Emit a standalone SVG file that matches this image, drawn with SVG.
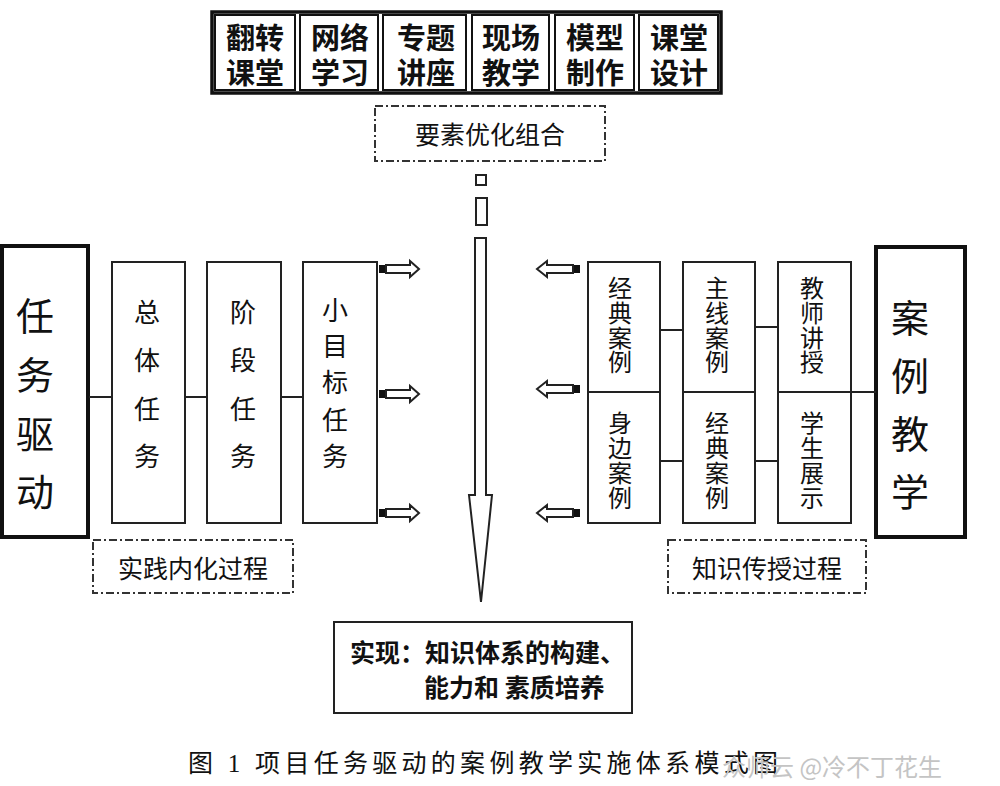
<svg xmlns="http://www.w3.org/2000/svg" width="1000" height="786" viewBox="0 0 1000 786">
<style>
.bg{fill:#fff}
.cell{fill:#fff;stroke:#111;stroke-width:2}
.frame{fill:none;stroke:#111;stroke-width:3.5}
.big{fill:#fff;stroke:#111;stroke-width:4}
.box{fill:#fff;stroke:#222;stroke-width:2}
.dd{fill:#fff;stroke:#333;stroke-width:2;stroke-dasharray:8 3 2 3}
.ln{stroke:#222;stroke-width:2;fill:none}
.arr{fill:#fff;stroke:#222;stroke-width:2;stroke-linejoin:miter}
.blk{fill:#111}
text{font-family:"Noto Sans CJK SC","Noto Sans",sans-serif;fill:#111;text-anchor:middle;dominant-baseline:central}
.tb{font-size:29px;font-weight:bold}
.t24{font-size:25px}
.vbig{font-size:38px}
.v26{font-size:26px}
.v24{font-size:24px}
.res{font-size:25px;font-weight:bold;text-anchor:start}
.cap{font-family:"Liberation Serif","Noto Sans CJK SC",serif;font-size:25px;text-anchor:start}
.wm{font-size:24px;fill:#c4c4c4;text-anchor:start}
</style>
<rect class="bg" x="0" y="0" width="1000" height="786"/>

<g id="top-methods">
  <rect class="frame" x="212" y="12" width="509" height="81"/>
  <g id="m1"><rect class="cell" x="215" y="15" width="80" height="75"/><text class="tb" x="255" y="36">翻转</text><text class="tb" x="255" y="71">课堂</text></g>
  <g id="m2"><rect class="cell" x="300" y="15" width="78" height="75"/><text class="tb" x="340" y="36">网络</text><text class="tb" x="340" y="71">学习</text></g>
  <g id="m3"><rect class="cell" x="383" y="15" width="83" height="75"/><text class="tb" x="426" y="36">专题</text><text class="tb" x="426" y="71">讲座</text></g>
  <g id="m4"><rect class="cell" x="472" y="15" width="77" height="75"/><text class="tb" x="511" y="36">现场</text><text class="tb" x="511" y="71">教学</text></g>
  <g id="m5"><rect class="cell" x="555" y="15" width="79" height="75"/><text class="tb" x="595" y="36">模型</text><text class="tb" x="595" y="71">制作</text></g>
  <g id="m6"><rect class="cell" x="639" y="15" width="79" height="75"/><text class="tb" x="679" y="36">课堂</text><text class="tb" x="679" y="71">设计</text></g>
</g>

<g id="optimize">
  <rect class="dd" x="375" y="106" width="230" height="55"/>
  <text class="t24" x="490" y="133">要素优化组合</text>
</g>

<g id="task-drive">
  <rect class="big" x="2" y="246" width="86" height="291"/>
  <text class="vbig"><tspan x="35" y="313">任</tspan><tspan x="35" y="372">务</tspan><tspan x="35" y="431">驱</tspan><tspan x="35" y="489">动</tspan></text>
</g>
<g id="overall-task">
  <rect class="box" x="112" y="262" width="73" height="261"/>
  <text class="v26"><tspan x="147" y="310">总</tspan><tspan x="147" y="358">体</tspan><tspan x="147" y="407">任</tspan><tspan x="147" y="454">务</tspan></text>
</g>
<g id="stage-task">
  <rect class="box" x="207" y="262" width="74" height="261"/>
  <text class="v26"><tspan x="243" y="310">阶</tspan><tspan x="243" y="358">段</tspan><tspan x="243" y="407">任</tspan><tspan x="243" y="454">务</tspan></text>
</g>
<g id="small-task">
  <rect class="box" x="303" y="262" width="74" height="261"/>
  <text class="v26"><tspan x="335" y="308">小</tspan><tspan x="335" y="344">目</tspan><tspan x="335" y="380">标</tspan><tspan x="335" y="418">任</tspan><tspan x="335" y="454">务</tspan></text>
</g>
<g id="practice">
  <rect class="dd" x="93" y="540" width="200" height="53"/>
  <text class="t24" x="193" y="567">实践内化过程</text>
</g>

<g id="case-teach">
  <rect class="big" x="876" y="247" width="89" height="290"/>
  <text class="vbig"><tspan x="910" y="315">案</tspan><tspan x="910" y="373">例</tspan><tspan x="910" y="431">教</tspan><tspan x="910" y="489">学</tspan></text>
</g>
<g id="classic-case">
  <rect class="box" x="588" y="262" width="72" height="130"/>
  <text class="v24"><tspan x="620" y="286">经</tspan><tspan x="620" y="311">典</tspan><tspan x="620" y="336">案</tspan><tspan x="620" y="360">例</tspan></text>
</g>
<g id="nearby-case">
  <rect class="box" x="588" y="392" width="72" height="131"/>
  <text class="v24"><tspan x="620" y="421">身</tspan><tspan x="620" y="446">边</tspan><tspan x="620" y="471">案</tspan><tspan x="620" y="496">例</tspan></text>
</g>
<g id="main-case">
  <rect class="box" x="683" y="262" width="72" height="130"/>
  <text class="v24"><tspan x="717" y="286">主</tspan><tspan x="717" y="311">线</tspan><tspan x="717" y="336">案</tspan><tspan x="717" y="360">例</tspan></text>
</g>
<g id="classic-case-2">
  <rect class="box" x="683" y="392" width="72" height="131"/>
  <text class="v24"><tspan x="717" y="421">经</tspan><tspan x="717" y="446">典</tspan><tspan x="717" y="471">案</tspan><tspan x="717" y="496">例</tspan></text>
</g>
<g id="teacher">
  <rect class="box" x="778" y="262" width="73" height="130"/>
  <text class="v24"><tspan x="812" y="286">教</tspan><tspan x="812" y="311">师</tspan><tspan x="812" y="336">讲</tspan><tspan x="812" y="360">授</tspan></text>
</g>
<g id="student">
  <rect class="box" x="778" y="392" width="73" height="131"/>
  <text class="v24"><tspan x="812" y="421">学</tspan><tspan x="812" y="446">生</tspan><tspan x="812" y="471">展</tspan><tspan x="812" y="496">示</tspan></text>
</g>
<g id="transfer">
  <rect class="dd" x="668" y="540" width="198" height="53"/>
  <text class="t24" x="767" y="567">知识传授过程</text>
</g>

<g id="result">
  <rect class="box" x="334" y="622" width="298" height="91"/>
  <text class="res" x="350" y="651">实现：知识体系的构建、</text>
  <text class="res" x="424" y="686">能力和 素质培养</text>
</g>

<g id="connectors">
  <line class="ln" x1="89" y1="397" x2="112" y2="397"/>
  <line class="ln" x1="185" y1="397" x2="207" y2="397"/>
  <line class="ln" x1="281" y1="397" x2="303" y2="397"/>
  <line class="ln" x1="660" y1="330" x2="683" y2="330"/>
  <line class="ln" x1="660" y1="461" x2="683" y2="461"/>
  <line class="ln" x1="755" y1="327" x2="778" y2="327"/>
  <line class="ln" x1="755" y1="461" x2="778" y2="461"/>
  <line class="ln" x1="851" y1="392" x2="876" y2="392"/>
  <rect class="arr" x="476" y="175" width="10" height="10"/>
  <rect class="arr" x="476" y="198" width="11" height="27"/>
  <polygon class="arr" points="475,238 486,238 486,495 492,495 481,602 469,495 475,495"/>
  <g id="arrows-right">
    <rect class="blk" x="379" y="265" width="7" height="8"/><polygon class="arr" points="386,265 410,265 410,261 419,269 410,277 410,273 386,273"/>
    <rect class="blk" x="379" y="390" width="7" height="8"/><polygon class="arr" points="386,390 410,390 410,386 419,394 410,402 410,398 386,398"/>
    <rect class="blk" x="379" y="509" width="7" height="8"/><polygon class="arr" points="386,509 410,509 410,505 419,513 410,521 410,517 386,517"/>
  </g>
  <g id="arrows-left">
    <rect class="blk" x="573" y="265" width="7" height="8"/><polygon class="arr" points="573,265 547,265 547,261 537,269 547,277 547,273 573,273"/>
    <rect class="blk" x="573" y="385" width="7" height="8"/><polygon class="arr" points="573,385 547,385 547,381 537,389 547,397 547,393 573,393"/>
    <rect class="blk" x="573" y="509" width="7" height="8"/><polygon class="arr" points="573,509 547,509 547,505 537,513 547,521 547,517 573,517"/>
  </g>
</g>

<text class="cap" x="188" y="763" textLength="590" lengthAdjust="spacing">图 1 项目任务驱动的案例教学实施体系模式图</text>
<text class="wm" x="722" y="765">众师云 @冷不丁花生</text>
</svg>
